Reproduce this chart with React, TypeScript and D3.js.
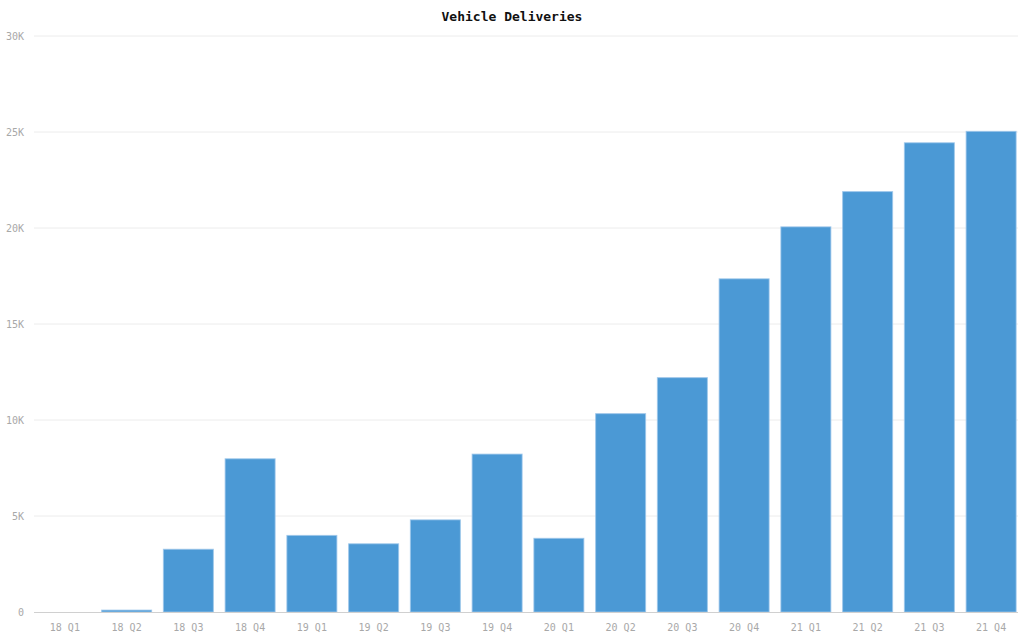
import React from "react";
import * as d3 from "d3";

const categories = ["18 Q1","18 Q2","18 Q3","18 Q4","19 Q1","19 Q2","19 Q3","19 Q4","20 Q1","20 Q2","20 Q3","20 Q4","21 Q1","21 Q2","21 Q3","21 Q4"];
const deliveries = [0,100,3268,7980,3989,3553,4799,8224,3838,10331,12206,17353,20060,21896,24439,25034];
const yTicks = [0,5000,10000,15000,20000,25000,30000];
const title = "Vehicle Deliveries";

const W = 1024, H = 640;
const font = "'DejaVu Sans Mono', 'Liberation Mono', monospace";

export default function App() {
  const x = d3.scaleBand<string>().domain(categories).range([34, 1022]).paddingInner(0.19).paddingOuter(0.095);
  const y = d3.scaleLinear().domain([0, 30000]).range([612, 36]);
  const fmt = (v: number) => (v === 0 ? "0" : `${v / 1000}K`);
  return (
    <svg width={W} height={H} style={{ position: "absolute", left: 0, top: 0, background: "#fff" }}>
      <text x={512} y={21} textAnchor="middle" fontFamily={font} fontWeight="bold" fontSize={13} fill="#111">{title}</text>
      {yTicks.map((t) => (
        <g key={t}>
          {t > 0 && <line x1={34} x2={1018} y1={y(t)} y2={y(t)} stroke="#ececec" strokeWidth={1} />}
          <text x={24} y={y(t)} dy="0.35em" textAnchor="end" fontFamily={font} fontSize={10} fill="#a8a8a8">{fmt(t)}</text>
        </g>
      ))}
      {categories.map((c, i) => (
        <rect key={c} x={x(c)!} y={y(deliveries[i])} width={x.bandwidth()} height={612 - y(deliveries[i])}
          fill="#4b99d5" stroke="#9cc6ea" strokeWidth={1} strokeOpacity={0.8} />
      ))}
      <line x1={34} x2={1018} y1={612.5} y2={612.5} stroke="#d0d0d0" strokeWidth={1} />
      {categories.map((c) => (
        <text key={c} x={x(c)! + x.bandwidth() / 2} y={631} textAnchor="middle" fontFamily={font} fontSize={10} fill="#a8a8a8">{c}</text>
      ))}
    </svg>
  );
}
